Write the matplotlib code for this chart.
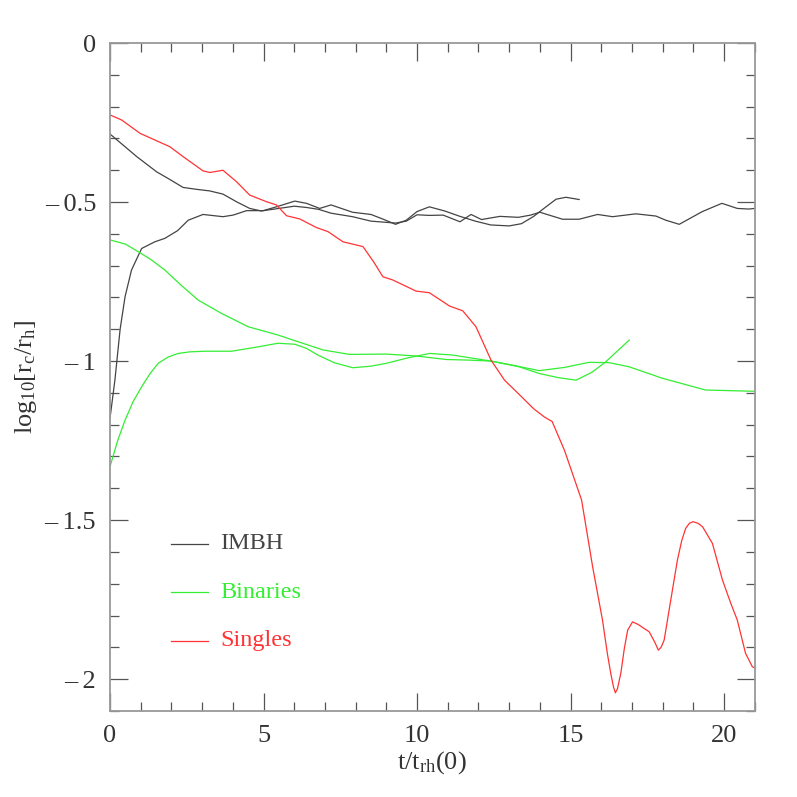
import matplotlib.pyplot as plt
from matplotlib.ticker import MultipleLocator

# IMBH runs (two curves)
imbh1_t = [0, 0.87, 1.52, 1.95, 2.38, 2.82, 3.25, 3.68, 4.12, 4.55, 4.93, 5.5, 6.0, 6.4, 6.8, 7.2,
           7.9, 8.5, 8.9, 9.3, 9.65, 10.0, 10.4, 10.85, 11.4, 11.76, 12.1, 12.7, 13.3, 13.7, 14.0,
           14.74, 15.28, 15.88, 16.37, 17.13, 17.78, 18.1, 18.54, 19.29, 19.93, 20.43, 20.81, 21]
imbh1_r = [-0.286, -0.357, -0.405, -0.429, -0.454, -0.46, -0.465, -0.475, -0.499, -0.52, -0.528,
           -0.52, -0.513, -0.517, -0.523, -0.535, -0.546, -0.56, -0.563, -0.566, -0.56, -0.54,
           -0.542, -0.541, -0.562, -0.539, -0.555, -0.545, -0.548, -0.541, -0.532, -0.554, -0.554,
           -0.539, -0.546, -0.537, -0.544, -0.557, -0.570, -0.530, -0.504, -0.52, -0.522, -0.52]
imbh2_t = [0, 0.16, 0.33, 0.49, 0.7, 1.03, 1.46, 1.79, 2.2, 2.55, 3.03, 3.68, 4.01, 4.45, 4.99,
           5.42, 6.02, 6.4, 6.83, 7.2, 7.9, 8.5, 8.9, 9.3, 9.65, 10.0, 10.4, 10.9, 11.4, 11.9,
           12.4, 13.0, 13.4, 13.8, 14.2, 14.53, 14.85, 15.28]
imbh2_r = [-1.18, -1.06, -0.9, -0.798, -0.714, -0.646, -0.625, -0.614, -0.59, -0.557, -0.539,
           -0.546, -0.541, -0.527, -0.527, -0.515, -0.497, -0.504, -0.52, -0.509, -0.532, -0.539,
           -0.554, -0.57, -0.557, -0.53, -0.515, -0.528, -0.545, -0.56, -0.572, -0.575, -0.568,
           -0.545, -0.515, -0.491, -0.485, -0.492]

# Binaries (two curves)
bin1_t = [0, 0.5, 0.92, 1.35, 1.79, 2.3, 2.87, 3.63, 4.5, 5.47, 6.12, 6.94, 7.8, 9.0, 9.97, 10.95,
          11.7, 12.41, 13.12, 13.98, 14.8, 15.6, 16.26, 16.91, 17.99, 19.4, 20.2, 21]
bin1_r = [-0.619, -0.632, -0.656, -0.682, -0.714, -0.76, -0.808, -0.85, -0.892, -0.918, -0.939,
          -0.965, -0.979, -0.978, -0.984, -0.995, -0.997, -1.0, -1.013, -1.030, -1.02, -1.004,
          -1.005, -1.018, -1.054, -1.091, -1.093, -1.095]
bin2_t = [0, 0.25, 0.49, 0.75, 1.03, 1.3, 1.57, 1.9, 2.22, 2.6, 3.09, 3.96, 4.72, 5.47, 6.02,
          6.4, 6.77, 7.3, 7.91, 8.5, 9.0, 9.7, 10.41, 11.16, 12.41, 13.33, 13.98, 14.6, 15.18,
          15.7, 16.15, 16.91]
bin2_r = [-1.332, -1.25, -1.186, -1.128, -1.081, -1.04, -1.007, -0.987, -0.976, -0.971, -0.969,
          -0.969, -0.957, -0.944, -0.947, -0.96, -0.981, -1.005, -1.021, -1.016, -1.007, -0.99,
          -0.976, -0.981, -1.0, -1.018, -1.039, -1.052, -1.06, -1.035, -1.002, -0.934]

# Singles
sing_t = [0, 0.38, 0.98, 1.95, 2.38, 3.03, 3.25, 3.68, 4.12, 4.55, 5.1, 5.42, 5.75, 6.18, 6.72,
          7.1, 7.59, 8.24, 8.6, 8.89, 9.21, 9.97, 10.4, 11.06, 11.49, 11.92, 12.41, 12.85, 13.35,
          13.8, 14.15, 14.4, 14.8, 15.36, 15.72, 16.04, 16.2, 16.31, 16.4, 16.46, 16.53, 16.64,
          16.75, 16.86, 17.02, 17.2, 17.4, 17.56, 17.75, 17.86, 17.95, 18.05, 18.21, 18.48, 18.62,
          18.75, 18.87, 18.99, 19.15, 19.3, 19.62, 19.95, 20.22, 20.43, 20.7, 20.92, 21]
sing_r = [-0.226, -0.242, -0.284, -0.326, -0.357, -0.402, -0.407, -0.4, -0.436, -0.478, -0.499,
          -0.509, -0.543, -0.553, -0.58, -0.593, -0.625, -0.640, -0.69, -0.735, -0.745, -0.780,
          -0.785, -0.827, -0.842, -0.892, -0.997, -1.06, -1.107, -1.15, -1.176, -1.19, -1.28,
          -1.437, -1.647, -1.814, -1.92, -1.982, -2.025, -2.043, -2.03, -1.98, -1.905, -1.846,
          -1.820, -1.828, -1.841, -1.851, -1.885, -1.909, -1.9, -1.877, -1.783, -1.626, -1.565,
          -1.526, -1.51, -1.505, -1.51, -1.521, -1.573, -1.689, -1.762, -1.814, -1.919, -1.961,
          -1.965]

labels = ["IMBH", "Binaries", "Singles"]
colors = ["#444444", "#33ee33", "#ff3333"]

plt.rcParams['font.family'] = ['Liberation Serif', 'DejaVu Serif']
plt.rcParams['mathtext.fontset'] = 'custom'
plt.rcParams['mathtext.rm'] = 'Liberation Serif'
plt.rcParams['mathtext.it'] = 'Liberation Serif'

fig = plt.figure(figsize=(7.97, 7.97), dpi=100)
ax = fig.add_axes([0.138, 0.108, 0.809, 0.838])

lw = 0.9
ax.plot(imbh1_t, imbh1_r, color=colors[0], lw=lw)
ax.plot(imbh2_t, imbh2_r, color=colors[0], lw=lw)
ax.plot(bin1_t, bin1_r, color=colors[1], lw=lw)
ax.plot(bin2_t, bin2_r, color=colors[1], lw=lw)
ax.plot(sing_t, sing_r, color=colors[2], lw=lw)

# hand-made legend
leg_y = [-1.575, -1.727, -1.88]
for lab, c, yy in zip(labels, colors, leg_y):
    ax.plot([2.0, 3.19], [yy, yy], color=c, lw=lw)
    ax.text(3.6, yy, lab, color=c, fontsize=17.5, va='center', ha='left')

ax.set_xlim(0, 21)
ax.set_ylim(-2.1, 0)
ax.xaxis.set_major_locator(MultipleLocator(5))
ax.xaxis.set_minor_locator(MultipleLocator(1))
ax.yaxis.set_major_locator(MultipleLocator(0.5))
ax.yaxis.set_minor_locator(MultipleLocator(0.1))
ax.set_xticks([0, 5, 10, 15, 20])
ax.set_xticklabels(["0", "5", "10", "15", "20"])
ax.set_yticks([0, -0.5, -1, -1.5, -2])
ax.set_yticklabels(["0", "\u2013\u20090.5", "\u2013\u20091", "\u2013\u20091.5", "\u2013\u20092"])

ax.tick_params(which='both', direction='in', top=True, right=True, color='#555555',
               labelsize=19, labelcolor='#333333', width=0.9)
ax.tick_params(which='major', length=13, pad=10)
ax.tick_params(which='minor', length=6.5)
for s in ax.spines.values():
    s.set_color('#999999')
    s.set_linewidth(1.3)

ax.set_xlabel(r"t/t$_{\rm rh}$(0)", fontsize=19, color='#333333', labelpad=2)
ax.set_ylabel(r"log$_{10}$[r$_{\rm c}$/r$_{\rm h}$]", fontsize=19, color='#333333', labelpad=4)

fig.savefig("out.png", dpi=100)
